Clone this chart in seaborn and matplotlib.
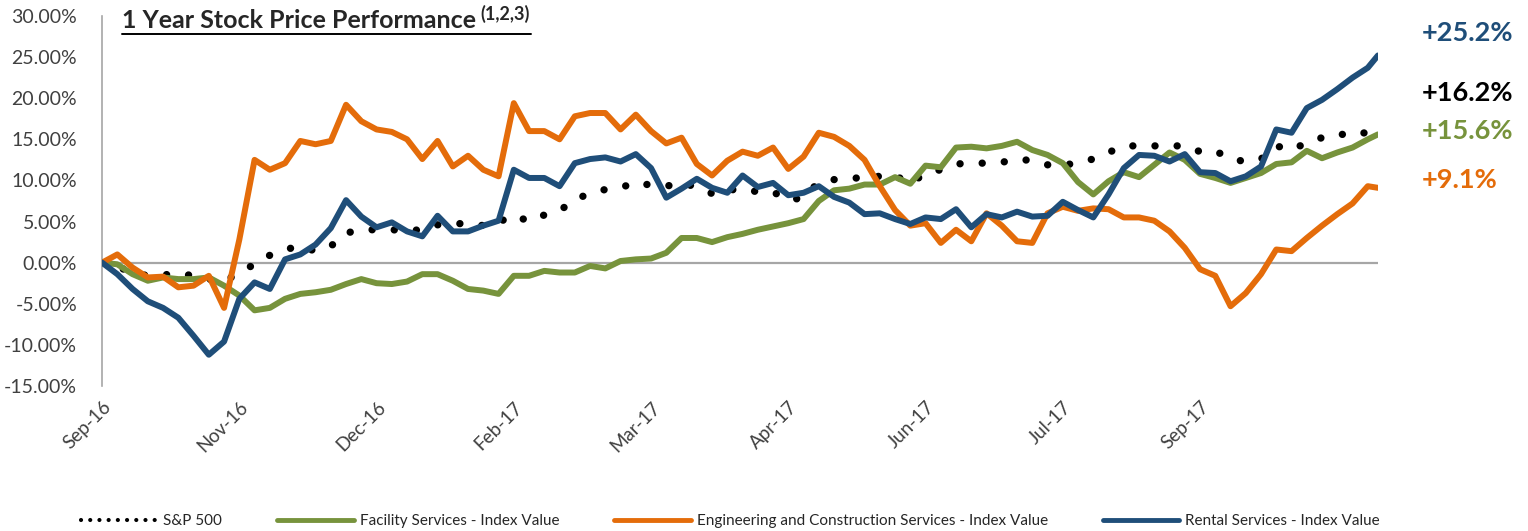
import numpy as np
import pandas as pd
import seaborn as sns
import matplotlib.pyplot as plt
from matplotlib.lines import Line2D

# Trading-day index of each sample (every 3rd day, last day = 251)
day_index = list(range(0, 250, 3)) + [251]

# Index values in %
sp500 = [0.0, -0.5, -1.2, -1.6, -1.5, -1.3, -1.6, -2.0, -2.3, -1.2, -0.2, 0.9, 1.6, 2.0, 1.4, 2.0, 3.6, 4.0,
         4.0, 4.0, 3.9, 4.0, 4.6, 4.7, 4.8, 4.5, 4.9, 5.8, 5.0, 5.8, 6.3, 7.7, 8.4, 8.9, 9.1,
         9.8, 9.4, 9.3, 9.7, 9.2, 8.4, 8.8, 9.0, 8.6, 8.6, 7.6, 7.9, 9.8, 10.1, 10.2, 10.4, 10.5,
         10.6, 9.6, 10.9, 11.3, 12.0, 12.1, 12.1, 12.2, 12.6, 12.4, 11.9, 11.8, 12.2, 12.6, 13.4, 14.2,
         14.2, 14.2, 14.2, 14.2, 13.5, 13.6, 12.6, 12.3, 12.6, 14.2, 13.7, 14.6, 15.2, 15.7, 15.4, 15.9,
         16.2]

facility = [0.0, -0.2, -1.4, -2.2, -1.8, -2.0, -2.0, -1.8, -2.8, -4.0, -5.8, -5.5, -4.4, -3.8, -3.6, -3.3, -2.6, -2.0,
            -2.5, -2.6, -2.3, -1.4, -1.4, -2.2, -3.2, -3.4, -3.8, -1.6, -1.6, -1.0, -1.2, -1.2, -0.4, -0.7, 0.2,
            0.4, 0.5, 1.2, 3.0, 3.0, 2.5, 3.1, 3.5, 4.0, 4.4, 4.8, 5.3, 7.5, 8.8, 9.0, 9.5, 9.5,
            10.4, 9.6, 11.8, 11.6, 14.0, 14.1, 13.9, 14.2, 14.7, 13.7, 13.1, 12.1, 9.8, 8.3, 9.9, 11.0,
            10.4, 11.9, 13.4, 12.5, 10.8, 10.3, 9.7, 10.3, 10.9, 12.0, 12.2, 13.6, 12.7, 13.4, 14.0, 15.0,
            15.6]

engineering = [0.0, 1.0, -0.6, -1.8, -1.7, -3.0, -2.8, -1.6, -5.5, 2.8, 12.5, 11.3, 12.1, 14.8, 14.4, 14.8, 19.2, 17.2,
               16.2, 15.9, 15.0, 12.6, 14.8, 11.7, 13.0, 11.3, 10.5, 19.4, 16.0, 16.0, 15.0, 17.8, 18.2, 18.2, 16.2,
               18.0, 16.0, 14.5, 15.2, 12.0, 10.6, 12.4, 13.5, 13.0, 14.0, 11.4, 12.9, 15.8, 15.3, 14.2, 12.5, 9.3,
               6.4, 4.5, 4.8, 2.4, 4.0, 2.6, 6.0, 4.5, 2.6, 2.4, 6.0, 6.8, 6.3, 6.6, 6.5, 5.5,
               5.5, 5.1, 3.8, 1.8, -0.8, -1.6, -5.3, -3.7, -1.4, 1.6, 1.4, 3.0, 4.5, 5.9, 7.2, 9.3,
               9.1]

rental = [0.0, -1.4, -3.2, -4.7, -5.5, -6.7, -8.9, -11.2, -9.6, -4.4, -2.4, -3.2, 0.4, 1.0, 2.2, 4.2, 7.6, 5.6,
          4.3, 4.9, 3.8, 3.2, 5.7, 3.8, 3.8, 4.5, 5.1, 11.3, 10.3, 10.3, 9.3, 12.1, 12.6, 12.8, 12.3,
          13.2, 11.5, 7.9, 9.0, 10.2, 9.1, 8.5, 10.6, 9.2, 9.7, 8.2, 8.5, 9.3, 8.0, 7.3, 5.9, 6.0,
          5.3, 4.7, 5.5, 5.3, 6.5, 4.3, 5.9, 5.5, 6.2, 5.6, 5.7, 7.4, 6.4, 5.5, 8.3, 11.5,
          13.1, 13.0, 12.3, 13.2, 11.0, 10.9, 9.9, 10.5, 11.7, 16.2, 15.8, 18.8, 19.8, 21.1, 22.5, 23.7,
          25.2]

series_names = ['S&P 500', 'Facility Services - Index Value',
                'Engineering and Construction Services - Index Value', 'Rental Services - Index Value']
series_colors = ['black', '#77933C', '#E46C0A', '#1F4E79']

tick_days = [0, 27, 54, 81, 108, 135, 162, 189, 216]
tick_labels = ['Sep-16', 'Nov-16', 'Dec-16', 'Feb-17', 'Mar-17', 'Apr-17', 'Jun-17', 'Jul-17', 'Sep-17']

end_labels = ['+25.2%', '+16.2%', '+15.6%', '+9.1%']
end_colors = ['#1F4E79', 'black', '#77933C', '#E46C0A']

sns.set_style('white')
plt.rcParams['font.family'] = ['Lato', 'DejaVu Sans']

fig = plt.figure(figsize=(15.28, 5.31), dpi=100)
ax = fig.add_axes([0.0668, 0.2731, 0.835, 0.6968])

# Long-form frame for seaborn
df = pd.DataFrame({
    'day': day_index * 4,
    'value': sp500 + facility + engineering + rental,
    'series': sum([[n] * len(day_index) for n in series_names], []),
})

ax.axhline(0, color='#A6A6A6', lw=1.6, zorder=1)

for name, col in zip(series_names, series_colors):
    sub = df[df['series'] == name]
    if name == 'S&P 500':
        sns.lineplot(data=sub, x='day', y='value', ax=ax, color=col, lw=5.3,
                     linestyle=(0, (0.01, 3.0)), dash_capstyle='round', zorder=2)
    else:
        sns.lineplot(data=sub, x='day', y='value', ax=ax, color=col, lw=4.3,
                     solid_joinstyle='round', solid_capstyle='round', zorder=3)

ax.set_xlim(0, 251)
ax.set_ylim(-15, 30)
ax.set_yticks(np.arange(-15, 31, 5))
ax.set_yticklabels([f'{v:.2f}%' for v in np.arange(-15, 31, 5)], fontsize=14, color='#404040')
ax.set_xticks(tick_days)
ax.set_xticklabels(tick_labels, rotation=45, ha='right', rotation_mode='anchor',
                   fontsize=13.5, color='#404040')
ax.tick_params(axis='x', length=0, pad=9)
ax.tick_params(axis='y', length=0, pad=18)
ax.set_xlabel('')
ax.set_ylabel('')
for s in ['top', 'right', 'bottom']:
    ax.spines[s].set_visible(False)
ax.spines['left'].set_color('#A6A6A6')
ax.spines['left'].set_linewidth(1.2)

# Title with superscript and underline
title = fig.text(0.0798, 0.947, '1 Year Stock Price Performance', fontsize=18, fontweight='bold', va='baseline')
r = fig.canvas.get_renderer()
bb = title.get_window_extent(r)
x_end = bb.x1 / fig.bbox.width
sup = fig.text(x_end + 0.003, 0.962, '(1,2,3)', fontsize=13, fontweight='bold', va='baseline')
bb2 = sup.get_window_extent(r)
fig.add_artist(Line2D([0.0798, bb2.x1 / fig.bbox.width + 0.001], [0.936, 0.936], color='black', lw=1.4))

# End-of-period labels
for lab, col, yy in zip(end_labels, end_colors, [0.938, 0.825, 0.753, 0.661]):
    fig.text(0.9306, yy, lab, color=col, fontsize=19.5, fontweight='bold', va='center', ha='left')

handles = [
    Line2D([], [], color='black', lw=3, linestyle=(0, (0.01, 2.2)), dash_capstyle='round'),
    Line2D([], [], color=series_colors[1], lw=3.5, solid_capstyle='round'),
    Line2D([], [], color=series_colors[2], lw=3.5, solid_capstyle='round'),
    Line2D([], [], color=series_colors[3], lw=3.5, solid_capstyle='round'),
]
fig.legend(handles, series_names, loc='lower center', bbox_to_anchor=(0.478, -0.02), ncol=4,
           frameon=False, fontsize=11, handlelength=5, handletextpad=0.4, columnspacing=3.6)

fig.savefig('out.png', dpi=100)
